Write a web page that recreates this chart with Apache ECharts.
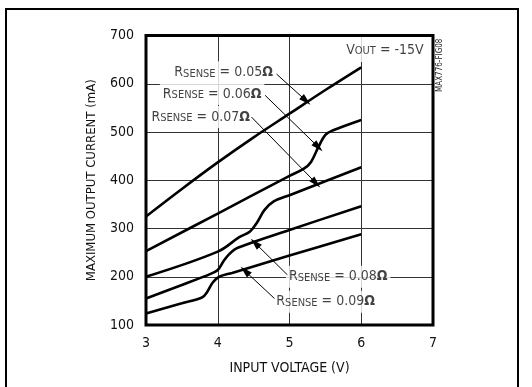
<!DOCTYPE html>
<html>
<head>
<meta charset="utf-8">
<script src="https://cdn.jsdelivr.net/npm/echarts@6/dist/echarts.min.js"></script>
<style>
  html, body { margin: 0; padding: 0; background: #fff; }
  #chart { width: 532px; height: 387px; }
</style>
</head>
<body>
<div id="chart"></div>
<script>
// input voltage (V) / max output current (mA), one pair per Rsense
const vin05 = [3, 3.5, 4, 4.5, 5, 5.5, 6];
const iout05 = [325, 382, 437, 489, 538, 587, 634];
const vin06 = [3, 4, 5, 5.2, 5.3, 5.4, 5.5, 5.6, 6];
const iout06 = [253, 331, 409, 424, 438, 468, 494, 503, 525];
const vin07 = [3, 4, 4.3, 4.45, 4.55, 4.65, 4.78, 5, 6];
const iout07 = [200, 252, 282, 294, 313, 338, 356, 369, 427];
const vin08 = [3, 3.5, 3.9, 4.0, 4.08, 4.16, 4.28, 5, 6];
const iout08 = [155, 183, 206, 214, 232, 247, 260, 297, 346];
const vin09 = [3, 3.5, 3.78, 3.85, 3.93, 4.02, 4.2, 5, 6];
const iout09 = [124, 145, 157, 168, 188, 200, 208, 244, 288];

const xTicks = [3, 4, 5, 6, 7];
const yTicks = [100, 200, 300, 400, 500, 600, 700];

const senseValues = ['0.05', '0.06', '0.07', '0.08', '0.09'];

const FONT = "'Liberation Sans Narrow', 'DejaVu Sans Condensed', 'Roboto', sans-serif";

const zip = (xs, ys) => xs.map((x, i) => [x, ys[i]]);

const curves = [
    zip(vin05, iout05),
    zip(vin06, iout06),
    zip(vin07, iout07),
    zip(vin08, iout08),
    zip(vin09, iout09),
];

// label anchors and leader arrows, in data coords
const labelAnchors = [
    {value: [4.81, 624], side: 'left'},
    {value: [4.65, 579], side: 'left'},
    {value: [4.49, 531], side: 'left'},
    {value: [4.95, 200], side: 'right'},
    {value: [4.775, 148], side: 'right'},
];
const leaders = [
    [[4.82, 620], [5.23, 565]],
    [[4.66, 576], [5.40, 469]],
    [[4.47, 531], [5.37, 394]],
    [[4.97, 204], [4.52, 270]],
    [[4.79, 155], [4.38, 212]],
];

const richSense = {
    r: {fontSize: 14, fontFamily: FONT, color: '#111'},
    s: {fontSize: 11, fontFamily: FONT, color: '#111', padding: [3, 0, 0, 0]},
    n: {fontSize: 14, fontFamily: FONT, color: '#111'},
    o: {fontSize: 14, fontFamily: FONT, color: '#111', fontWeight: 'bold'},
};

const chart = echarts.init(document.getElementById('chart'), null, {renderer: 'canvas'});

const curveSeries = curves.map((d, i) => ({
    name: 'RSENSE = ' + senseValues[i],
    type: 'line',
    data: d,
    smooth: 0.35,
    showSymbol: false,
    z: 3,
    lineStyle: {color: '#000', width: 2.6},
}));

chart.setOption({
    animation: false,
    backgroundColor: '#fff',
    textStyle: {fontFamily: FONT},
    grid: {
        left: 146,
        right: 99,
        top: 35.5,
        bottom: 62,
        show: true,
        borderColor: '#000',
        borderWidth: 3,
        z: 5,
    },
    xAxis: {
        type: 'value',
        min: xTicks[0],
        max: xTicks[xTicks.length - 1],
        interval: 1,
        name: 'INPUT VOLTAGE (V)',
        nameLocation: 'middle',
        nameGap: 36,
        nameTextStyle: {fontSize: 14, color: '#111', fontFamily: FONT},
        axisLine: {show: false},
        axisTick: {show: false},
        axisLabel: {fontSize: 14, color: '#111', margin: 11, fontFamily: FONT},
        splitLine: {show: true, lineStyle: {color: '#333', width: 1}},
    },
    yAxis: {
        type: 'value',
        min: yTicks[0],
        max: yTicks[yTicks.length - 1],
        interval: 100,
        name: 'MAXIMUM OUTPUT CURRENT (mA)',
        nameLocation: 'middle',
        nameGap: 48,
        nameTextStyle: {fontSize: 13, color: '#111', fontFamily: FONT},
        axisLine: {show: false},
        axisTick: {show: false},
        axisLabel: {fontSize: 14, color: '#111', margin: 12, fontFamily: FONT},
        splitLine: {show: true, lineStyle: {color: '#333', width: 1}},
    },
    graphic: [
        {
            type: 'rect',
            shape: {x: 6, y: 9, width: 512, height: 400},
            style: {fill: 'none', stroke: '#000', lineWidth: 2},
            silent: true,
        },
        {
            type: 'text',
            x: 436,
            y: 92,
            rotation: Math.PI / 2,
            style: {text: 'MAX776-FIG08', fontSize: 8, fontFamily: FONT, fill: '#222'},
            silent: true,
        },
    ],
    series: [
        ...curveSeries,
        {
            // text labels with white backing, gaps in gridlines like the original
            type: 'scatter',
            symbolSize: 0,
            z: 2,
            silent: true,
            data: labelAnchors.map((a, i) => ({
                value: a.value,
                label: {
                    show: true,
                    position: a.side,
                    distance: 0,
                    backgroundColor: '#fff',
                    padding: [4, 3, 4, 3],
                    rich: richSense,
                    formatter: '{r|R}{s|SENSE}{n| = ' + senseValues[i] + '}{o|Ω}',
                },
            })).concat([{
                value: [6.33, 672],
                label: {
                    show: true,
                    position: 'inside',
                    backgroundColor: '#fff',
                    padding: [7, 3, 5, 3],
                    rich: {
                        v: {fontSize: 14, fontFamily: FONT, color: '#111'},
                        s: {fontSize: 11, fontFamily: FONT, color: '#111', padding: [3, 0, 0, 0]},
                        n: {fontSize: 14, fontFamily: FONT, color: '#111'},
                    },
                    formatter: '{v|V}{s|OUT}{n| = -15V}',
                },
            }]),
        },
        {
            // leader lines with arrow heads
            type: 'line',
            data: [],
            silent: true,
            z: 4,
            markLine: {
                silent: true,
                animation: false,
                symbol: ['none', 'triangle'],
                symbolSize: 10,
                lineStyle: {color: '#000', width: 1, type: 'solid'},
                itemStyle: {color: '#000'},
                label: {show: false},
                data: leaders.map(l => [{coord: l[0]}, {coord: l[1], symbolSize: [7, 12]}]),
            },
        },
    ],
});
</script>
</body>
</html>
